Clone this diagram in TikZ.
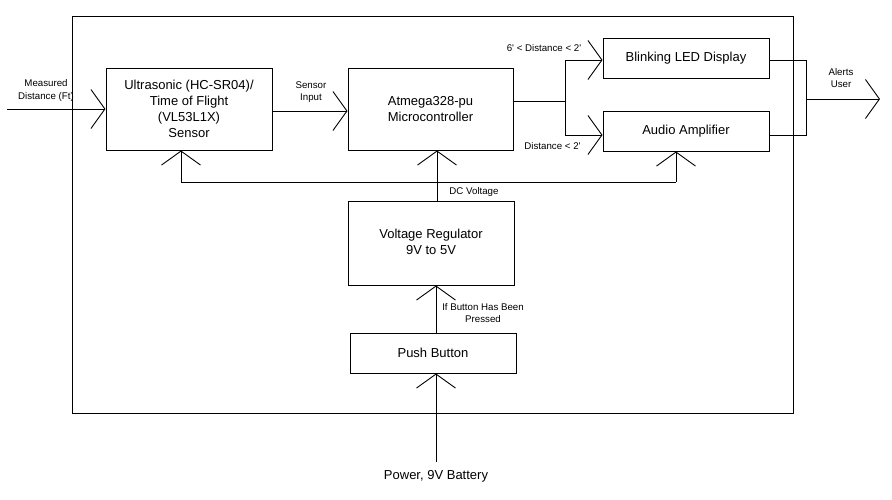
\documentclass[tikz,border=0pt]{standalone}
\usepackage{fontspec}
\setmainfont{Liberation Sans}
\usetikzlibrary{arrows.meta,calc}
\begin{document}
\begin{tikzpicture}[x=1pt,y=-1pt,
  blk/.style={draw,line width=1pt,inner sep=0pt,align=center,font=\fontsize{13}{16}\selectfont},
  lbl/.style={inner sep=0pt,align=center,font=\fontsize{9.7}{12}\selectfont},
  wire/.style={line width=0.9pt},
  openarr/.style={wire,-{Straight Barb[length=14pt,width=39pt]}}]
\useasboundingbox (0,0) rectangle (892,499);
\node[draw,line width=0.9pt,minimum width=721pt,minimum height=397pt,inner sep=0pt] (frame) at (432.5,214.5) {};
\node[blk,minimum width=166pt,minimum height=82pt] (sensor) at (189,109) {Ultrasonic (HC-SR04)/\\Time of Flight\\(VL53L1X)\\Sensor};
\node[blk,minimum width=165pt,minimum height=82pt] (micro) at (430.5,109) {Atmega328-pu\\Microcontroller};
\node[blk,minimum width=166pt,minimum height=40pt] (led) at (686,58) {Blinking LED Display};
\node[blk,minimum width=166pt,minimum height=40pt] (audio) at (686,131) {Audio Amplifier};
\node[blk,minimum width=166pt,minimum height=84pt] (vreg) at (431,243) {\raisebox{3pt}{\begin{tabular}{@{}c@{}}Voltage Regulator\\9V to 5V\end{tabular}}};
\node[blk,minimum width=166pt,minimum height=40pt] (push) at (433,353) {Push Button};
% coordinates
\coordinate (in) at (7,109);
\coordinate (split) at (565,101);
\coordinate (join) at (806,99);
\coordinate (out) at (880,99);
\coordinate (bl) at (181,182);
\coordinate (br) at (676,182);
\coordinate (bus) at (437,182);
\coordinate (pb) at (436,353);
\coordinate (bat) at (436,462);
% connectors
\draw[openarr] (in) -- (sensor.west);
\draw[openarr] ([yshift=-2pt]sensor.east) -- ([yshift=-2pt]micro.west);
\draw[wire] ([yshift=8pt]micro.east) -- (split);
\draw[openarr] (split) |- ([yshift=-2pt]led.west);
\draw[openarr] (split) |- ([yshift=-4pt]audio.west);
\draw[wire] ([yshift=-2pt]led.east) -| (join);
\draw[wire] ([yshift=-4pt]audio.east) -| (join);
\draw[openarr] (join) -- (out);
\draw[wire] (bl) -- (br);
\draw[openarr] (bl) -- (bl |- sensor.south);
\draw[openarr] (br) -- (br |- audio.south);
\draw[openarr] (bus |- vreg.north) -- (bus |- micro.south);
\draw[openarr] (pb |- push.north) -- (pb |- vreg.south);
\draw[openarr] (bat) -- (bat |- push.south);
% labels
\node[lbl] (lmeas) at (46,90) {Measured\\[1pt]Distance (Ft)};
\node[lbl] (lsens) at (311,92) {Sensor\\Input};
\node[lbl] (lfar) at (544,48) {6\textquotesingle{} < Distance < 2\textquotesingle};
\node[lbl] (lnear) at (552.5,146.5) {Distance < 2\textquotesingle};
\node[lbl] (lalert) at (841,78.5) {Alerts\\User};
\node[lbl] (ldc) at (474,191.5) {DC Voltage};
\node[lbl] (lbtn) at (483,313.5) {If Button Has Been\\Pressed};
\node[blk,draw=none] (lpow) at (436,476) {Power, 9V Battery};
\end{tikzpicture}
\end{document}
